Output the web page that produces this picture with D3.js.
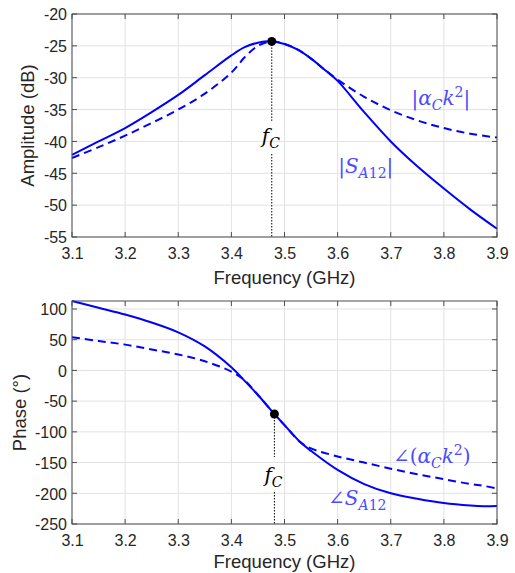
<!DOCTYPE html>
<html><head><meta charset="utf-8">
<script src="https://cdn.jsdelivr.net/npm/d3@7"></script>
<style>
body{margin:0;background:#fff}
text{font-family:"Liberation Sans",Arial,Helvetica,sans-serif}
</style>
</head><body>
<svg id="c" width="515" height="573"></svg>
<script>
// ---------- data ----------
const freqTicks = [3.1, 3.2, 3.3, 3.4, 3.5, 3.6, 3.7, 3.8, 3.9];
const ampTicks = [-55, -50, -45, -40, -35, -30, -25, -20];
const phaseTicks = [-250, -200, -150, -100, -50, 0, 50, 100];

const ampFreq     = [3.10, 3.15, 3.20, 3.25, 3.30, 3.35, 3.40, 3.425, 3.45, 3.475, 3.50, 3.525, 3.55, 3.575, 3.60, 3.65, 3.70, 3.75, 3.80, 3.85, 3.90];
const ampSA12     = [-42.1, -40.0, -37.9, -35.4, -32.7, -29.6, -26.5, -25.2, -24.5, -24.3, -24.7, -25.6, -27.0, -28.7, -30.5, -35.4, -40.0, -43.9, -47.4, -50.7, -53.7];
const ampAlphaK2  = [-42.6, -40.9, -39.1, -37.1, -35.0, -32.5, -29.2, -26.8, -25.0, -24.3, -24.7, -25.6, -27.0, -28.7, -30.3, -33.0, -35.1, -36.7, -37.9, -38.8, -39.4];

const phFreq      = [3.10, 3.15, 3.20, 3.25, 3.30, 3.35, 3.40, 3.425, 3.45, 3.481, 3.50, 3.53, 3.55, 3.60, 3.65, 3.70, 3.75, 3.80, 3.85, 3.875, 3.90];
const phSA12      = [113, 102, 91, 78, 62, 39, 5, -17, -40, -71, -89, -117, -131, -162, -185, -200, -209, -216, -220, -221, -220.5];
const phAlphaK2   = [54, 48, 42, 34, 26, 15, -2, -16, -40, -71, -89, -117, -127, -140, -150, -160, -169, -177, -185, -188, -192];

const fcAmp   = {f: 3.476, v: -24.3};
const fcPhase = {f: 3.481, v: -71};

// ---------- drawing ----------
const svg = d3.select("#c");
const blue = "#0000ff", labBlue = "#4b4bff";

function mathText(g, x, y, parts, color){
  const t = g.append("text").attr("x", x).attr("y", y)
    .attr("fill", color)
    .style("font-family", "'DejaVu Serif', 'Liberation Serif', serif")
    .style("font-size", "20px");
  let shift = 0;
  parts.forEach(p => {
    let target = 0, size = 20;
    if (p.sub) { target = 5; size = 14; }
    if (p.sup) { target = -8; size = 14; }
    t.append("tspan").text(p.t)
      .attr("dy", target - shift)
      .style("font-size", size + "px")
      .style("font-style", p.it ? "italic" : "normal");
    shift = target;
  });
  return t;
}

function panel(cfg){
  const x = d3.scaleLinear().domain([3.1, 3.9]).range([72, 497]);
  const y = d3.scaleLinear().domain(cfg.yDomain).range([cfg.bottom, cfg.top]);
  const g = svg.append("g");

  // grid
  g.selectAll(".gx").data(freqTicks).enter().append("line")
    .attr("x1", d => x(d)).attr("x2", d => x(d))
    .attr("y1", cfg.top).attr("y2", cfg.bottom)
    .attr("stroke", "#e2e2e2").attr("stroke-width", 1);
  g.selectAll(".gy").data(cfg.yTicks).enter().append("line")
    .attr("x1", 72).attr("x2", 497)
    .attr("y1", d => y(d)).attr("y2", d => y(d))
    .attr("stroke", "#e2e2e2").attr("stroke-width", 1);

  // lines
  const line = (xs, vs) => d3.line().x((d, i) => x(xs[i])).y(d => y(d)).curve(d3.curveCatmullRom.alpha(0.5))(vs);
  g.append("path").attr("d", line(cfg.xs, cfg.solid))
    .attr("fill", "none").attr("stroke", blue).attr("stroke-width", 2);
  g.append("path").attr("d", line(cfg.xs, cfg.dashed))
    .attr("fill", "none").attr("stroke", blue).attr("stroke-width", 2)
    .attr("stroke-dasharray", "8,5");

  // dotted marker
  const fx = x(cfg.fc.f), fy = y(cfg.fc.v);
  g.append("line").attr("x1", fx).attr("x2", fx).attr("y1", fy).attr("y2", cfg.gapTop)
    .attr("stroke", "#000").attr("stroke-width", 1).attr("stroke-dasharray", "1.5,1.5");
  g.append("line").attr("x1", fx).attr("x2", fx).attr("y1", cfg.gapBottom).attr("y2", cfg.bottom)
    .attr("stroke", "#000").attr("stroke-width", 1).attr("stroke-dasharray", "1.5,1.5");
  g.append("circle").attr("cx", fx).attr("cy", fy).attr("r", 4.5).attr("fill", "#000");
  mathText(g, fx - 10, cfg.fcBase, [{t: "f", it: true}, {t: "C", it: true, sub: true}], "#000");

  // axes box
  g.append("rect").attr("x", 72).attr("y", cfg.top).attr("width", 425).attr("height", cfg.bottom - cfg.top)
    .attr("fill", "none").attr("stroke", "#4d4d4d").attr("stroke-width", 1);
  freqTicks.forEach(t => {
    g.append("line").attr("x1", x(t)).attr("x2", x(t)).attr("y1", cfg.bottom).attr("y2", cfg.bottom - 5).attr("stroke", "#4d4d4d");
    g.append("line").attr("x1", x(t)).attr("x2", x(t)).attr("y1", cfg.top).attr("y2", cfg.top + 5).attr("stroke", "#4d4d4d");
  });
  cfg.yTicks.forEach(t => {
    g.append("line").attr("x1", 72).attr("x2", 77).attr("y1", y(t)).attr("y2", y(t)).attr("stroke", "#4d4d4d");
    g.append("line").attr("x1", 497).attr("x2", 492).attr("y1", y(t)).attr("y2", y(t)).attr("stroke", "#4d4d4d");
  });
  const axB = d3.axisBottom(x).tickValues(freqTicks).tickSize(0).tickFormat(d3.format(".1f"));
  const xa = g.append("g").attr("transform", `translate(0,${cfg.bottom})`).call(axB);
  xa.select(".domain").remove();
  xa.selectAll("text").attr("y", 0).attr("dy", "22px").attr("fill", "#262626").style("font-size", "16px");
  const axL = d3.axisLeft(y).tickValues(cfg.yTicks).tickSize(0).tickFormat(d3.format("d"));
  const ya = g.append("g").attr("transform", "translate(72,0)").call(axL);
  ya.select(".domain").remove();
  ya.selectAll("text").attr("x", -5).attr("dy", "0.36em").attr("fill", "#262626").style("font-size", "16px")
    .text(d => d < 0 ? "-" + Math.abs(d) : d);

  // axis labels
  g.append("text").attr("x", 284.5).attr("y", cfg.bottom + cfg.xlabOff).attr("text-anchor", "middle")
    .attr("fill", "#262626").style("font-size", "18.5px").text("Frequency (GHz)");
  g.append("text").attr("transform", `translate(${cfg.ylabX},${(cfg.top + cfg.bottom) / 2}) rotate(-90)`)
    .attr("text-anchor", "middle").attr("fill", "#262626").style("font-size", "18.5px").text(cfg.ylabel);

  // curve labels
  cfg.labels.forEach(l => mathText(g, x(l.f), y(l.v), l.parts, labBlue));
}

panel({
  top: 14, bottom: 237, yDomain: [-55, -20], yTicks: ampTicks,
  xs: ampFreq, solid: ampSA12, dashed: ampAlphaK2, fc: fcAmp,
  gapTop: 121, gapBottom: 154, fcBase: 143, xlabOff: 47,
  ylabel: "Amplitude (dB)", ylabX: 34,
  labels: [
    {f: 3.739, v: -34.3, parts: [{t: "|"}, {t: "α", it: true}, {t: "C", it: true, sub: true}, {t: "k", it: true}, {t: "2", sup: true}, {t: "|"}]},
    {f: 3.601, v: -45.0, parts: [{t: "|"}, {t: "S", it: true}, {t: "A", it: true, sub: true}, {t: "12", sub: true}, {t: "|"}]}
  ]
});

panel({
  top: 301, bottom: 524, yDomain: [-250, 113], yTicks: phaseTicks,
  xs: phFreq, solid: phSA12, dashed: phAlphaK2, fc: fcPhase,
  gapTop: 457, gapBottom: 492, fcBase: 482, xlabOff: 44,
  ylabel: "Phase (°)", ylabX: 26,
  labels: [
    {f: 3.704, v: -150, parts: [{t: "∠("}, {t: "α", it: true}, {t: "C", it: true, sub: true}, {t: "k", it: true}, {t: "2", sup: true}, {t: ")"}]},
    {f: 3.582, v: -219, parts: [{t: "∠"}, {t: "S", it: true}, {t: "A", it: true, sub: true}, {t: "12", sub: true}]}
  ]
});
</script>
</body></html>
